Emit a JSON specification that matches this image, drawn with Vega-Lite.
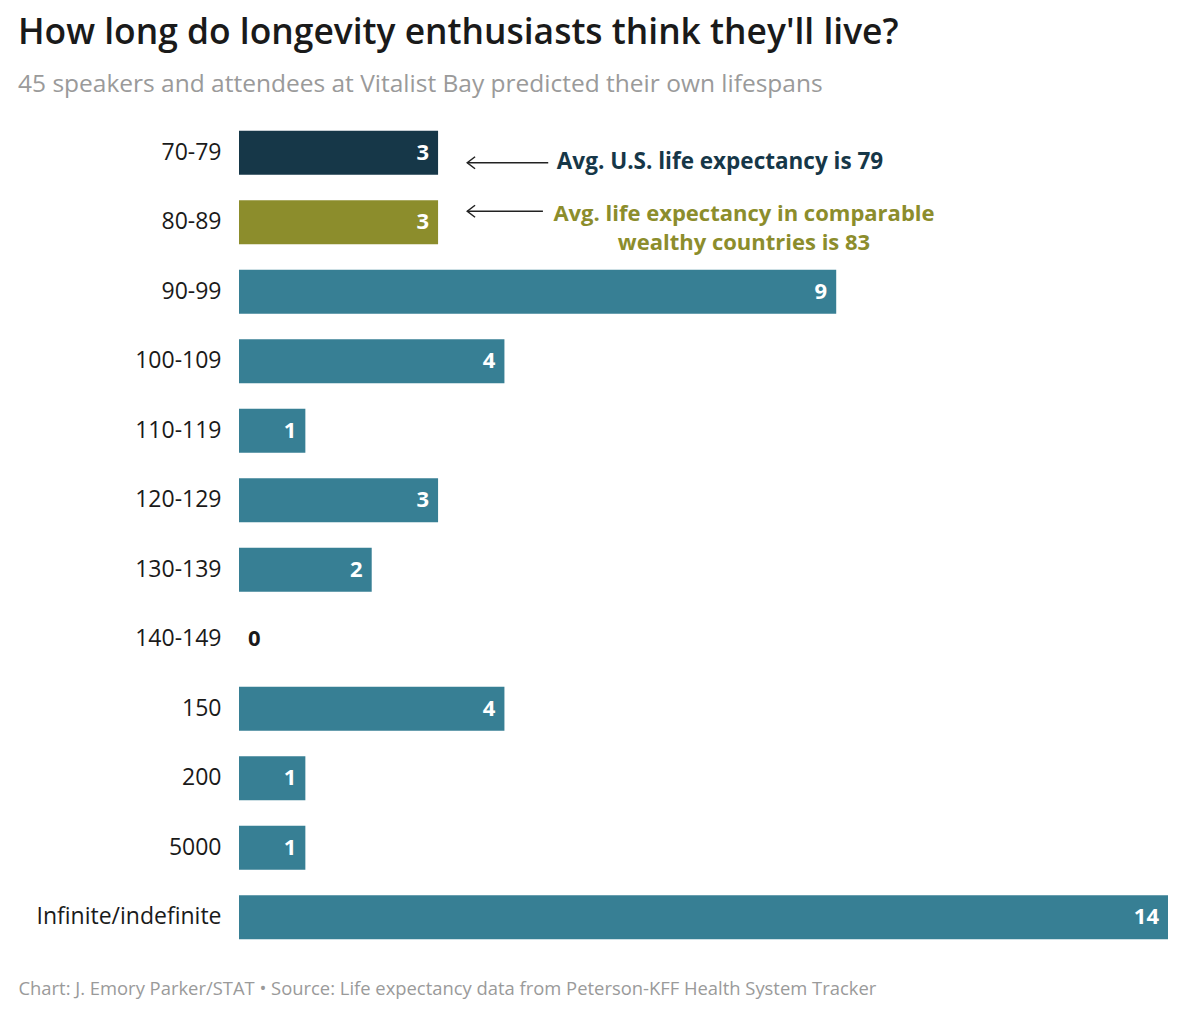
{
  "$schema": "https://vega.github.io/schema/vega-lite/v6.json",
  "width": 929,
  "height": 834,
  "autosize": {"type": "none"},
  "padding": {"left": 239, "top": 118, "right": 32, "bottom": 60},
  "background": "white",
  "title": {
    "text": "How long do longevity enthusiasts think they'll live?",
    "subtitle": "45 speakers and attendees at Vitalist Bay predicted their own lifespans",
    "anchor": "start",
    "frame": "group",
    "dx": -221,
    "offset": 22,
    "font": "Open Sans",
    "fontSize": 35.4,
    "fontWeight": 600,
    "color": "#1a1a1a",
    "subtitleFont": "Open Sans",
    "subtitleFontSize": 24.5,
    "subtitleColor": "#9a9a9a",
    "subtitlePadding": 21
  },
  "data": {
    "values": [
      {"range": "70-79", "count": 3},
      {"range": "80-89", "count": 3},
      {"range": "90-99", "count": 9},
      {"range": "100-109", "count": 4},
      {"range": "110-119", "count": 1},
      {"range": "120-129", "count": 3},
      {"range": "130-139", "count": 2},
      {"range": "140-149", "count": 0},
      {"range": "150", "count": 4},
      {"range": "200", "count": 1},
      {"range": "5000", "count": 1},
      {"range": "Infinite/indefinite", "count": 14}
    ]
  },
  "encoding": {
    "y": {
      "field": "range",
      "type": "nominal",
      "sort": null,
      "scale": {"paddingInner": 0.37, "paddingOuter": 0.185},
      "axis": {
        "title": null,
        "ticks": false,
        "domain": false,
        "labelFont": "Open Sans",
        "labelFontSize": 23,
        "labelColor": "#1a1a1a",
        "labelPadding": 18,
        "labelLimit": 400
      }
    },
    "x": {
      "field": "count",
      "type": "quantitative",
      "scale": {"domain": [0, 14], "nice": false},
      "axis": {
        "labels": false,
        "ticks": false,
        "domain": false,
        "grid": false,
        "title": "Chart: J. Emory Parker/STAT \u2022 Source: Life expectancy data from Peterson-KFF Health System Tracker",
        "titleFont": "Open Sans",
        "titleFontSize": 18.4,
        "titleFontWeight": "normal",
        "titleColor": "#9a9a9a",
        "titleAlign": "left",
        "titleAnchor": "start",
        "titleBaseline": "middle",
        "titleX": -221,
        "titleY": 36,
        "titleLimit": 1200
      }
    }
  },
  "layer": [
    {
      "mark": {"type": "bar"},
      "encoding": {
        "color": {
          "condition": [
            {"test": "datum.range === '70-79'", "value": "#163748"},
            {"test": "datum.range === '80-89'", "value": "#8c8d2c"}
          ],
          "value": "#377f94"
        }
      }
    },
    {
      "transform": [{"filter": "datum.count > 0"}],
      "mark": {"type": "text", "align": "right", "dx": -9, "font": "Open Sans", "fontSize": 22, "fontWeight": "bold", "color": "white"},
      "encoding": {"text": {"field": "count"}}
    },
    {
      "transform": [{"filter": "datum.count === 0"}],
      "mark": {"type": "text", "align": "left", "dx": 9, "font": "Open Sans", "fontSize": 22, "fontWeight": "bold", "color": "#1a1a1a"},
      "encoding": {"text": {"field": "count"}}
    },
    {
      "data": {"values": [{"range": "70-79", "from": 3.44, "to": 4.66}]},
      "mark": {"type": "rule", "yOffset": 10, "color": "#222", "strokeWidth": 1.5},
      "encoding": {"x": {"field": "from", "type": "quantitative"}, "x2": {"field": "to"}}
    },
    {
      "data": {"values": [{"range": "80-89", "from": 3.44, "to": 4.58}]},
      "mark": {"type": "rule", "yOffset": -11, "color": "#222", "strokeWidth": 1.5},
      "encoding": {"x": {"field": "from", "type": "quantitative"}, "x2": {"field": "to"}}
    },
    {
      "data": {"values": [{"range": "70-79", "from": 3.44}]},
      "mark": {"type": "point", "shape": "M1.3,-1L0,0L1.3,1", "size": 144, "filled": false, "stroke": "#222", "strokeWidth": 1.5, "opacity": 1, "yOffset": 10},
      "encoding": {"x": {"field": "from", "type": "quantitative"}}
    },
    {
      "data": {"values": [{"range": "80-89", "from": 3.44}]},
      "mark": {"type": "point", "shape": "M1.3,-1L0,0L1.3,1", "size": 144, "filled": false, "stroke": "#222", "strokeWidth": 1.5, "opacity": 1, "yOffset": -11},
      "encoding": {"x": {"field": "from", "type": "quantitative"}}
    },
    {
      "data": {"values": [{"range": "70-79", "pos": 4.79, "note": "Avg. U.S. life expectancy is 79"}]},
      "mark": {"type": "text", "align": "left", "yOffset": 9, "font": "Open Sans", "fontSize": 22.5, "fontWeight": "bold", "color": "#163748"},
      "encoding": {"x": {"field": "pos", "type": "quantitative"}, "text": {"field": "note"}}
    },
    {
      "data": {"values": [{"range": "80-89", "pos": 7.61, "note": "Avg. life expectancy in comparable\nwealthy countries is 83"}]},
      "mark": {"type": "text", "align": "center", "yOffset": -8, "lineBreak": "\n", "lineHeight": 29, "font": "Open Sans", "fontSize": 22, "fontWeight": "bold", "color": "#8c8d2c"},
      "encoding": {"x": {"field": "pos", "type": "quantitative"}, "text": {"field": "note"}}
    }
  ],
  "config": {"view": {"stroke": null}}
}
